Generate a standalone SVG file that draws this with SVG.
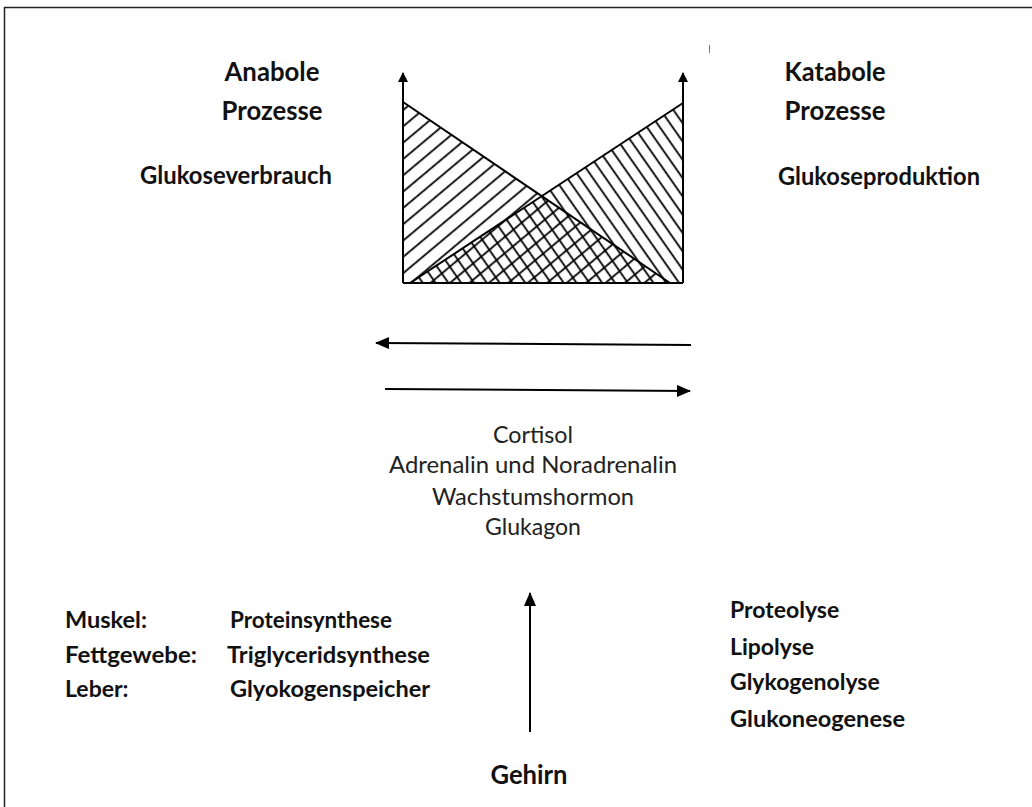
<svg xmlns="http://www.w3.org/2000/svg" width="1032" height="807" viewBox="0 0 1032 807">
<style>
.b{font-family:Lato,"Liberation Sans",sans-serif;font-weight:bold;fill:#111}
.r{font-family:Lato,"Liberation Sans",sans-serif;fill:#222}
.ln{stroke:#000;stroke-width:2;fill:none}
.hl{stroke:#000;stroke-width:1.8}
</style>
<defs>
<pattern id="hatchL" width="12.5" height="12.5" patternUnits="userSpaceOnUse" patternTransform="rotate(-40)">
<line x1="0" y1="6" x2="12.5" y2="6" class="hl"/>
</pattern>
<pattern id="hatchR" width="10.5" height="10.5" patternUnits="userSpaceOnUse" patternTransform="rotate(55)">
<line x1="0" y1="5" x2="10.5" y2="5" class="hl"/>
</pattern>
<marker id="ah" viewBox="0 0 10 10" refX="9" refY="5" markerWidth="10" markerHeight="10" markerUnits="userSpaceOnUse" orient="auto">
<path d="M0,0 L10,5 L0,10 z" fill="#000"/>
</marker>
<marker id="ahB" viewBox="0 0 14 12" refX="13" refY="6" markerWidth="14" markerHeight="12" markerUnits="userSpaceOnUse" orient="auto">
<path d="M0,0 L14,6 L0,12 z" fill="#000"/>
</marker>
</defs>
<rect width="1032" height="807" fill="#fff"/>
<g id="frame">
<line x1="4" y1="7.5" x2="1032" y2="7.5" stroke="#222" stroke-width="1.5"/>
<line x1="4.5" y1="7" x2="4.5" y2="807" stroke="#222" stroke-width="1.5"/>
<line x1="709.5" y1="45" x2="709.5" y2="53" stroke="#777" stroke-width="1"/>
</g>
<g id="chart">
<polygon points="403,102 403,283 670,283" fill="url(#hatchL)"/>
<polygon points="683,103 683,283 410,283" fill="url(#hatchR)"/>
<line x1="403" y1="102" x2="670" y2="283" class="ln"/>
<line x1="683" y1="103" x2="410" y2="283" class="ln"/>
<line x1="403" y1="283" x2="683" y2="283" class="ln"/>
</g>
<g id="connectors">
<line x1="403" y1="283" x2="403" y2="73" class="ln" marker-end="url(#ah)"/>
<line x1="683" y1="283" x2="683" y2="73" class="ln" marker-end="url(#ah)"/>
<line x1="691" y1="345" x2="376" y2="343" class="ln" marker-end="url(#ahB)"/>
<line x1="385" y1="389" x2="690" y2="391" class="ln" marker-end="url(#ahB)"/>
<line x1="530" y1="732" x2="530" y2="593" class="ln" marker-end="url(#ahB)"/>
</g>
<g id="anabol">
<text class="b" x="272" y="81" font-size="26" text-anchor="middle" textLength="95" lengthAdjust="spacingAndGlyphs">Anabole</text>
<text class="b" x="272" y="120" font-size="26" text-anchor="middle" textLength="101" lengthAdjust="spacingAndGlyphs">Prozesse</text>
<text class="b" x="236" y="184" font-size="24" text-anchor="middle" textLength="192" lengthAdjust="spacingAndGlyphs">Glukoseverbrauch</text>
</g>
<g id="katabol">
<text class="b" x="835" y="81" font-size="26" text-anchor="middle" textLength="101" lengthAdjust="spacingAndGlyphs">Katabole</text>
<text class="b" x="835" y="120" font-size="26" text-anchor="middle" textLength="101" lengthAdjust="spacingAndGlyphs">Prozesse</text>
<text class="b" x="879" y="185" font-size="24" text-anchor="middle" textLength="202" lengthAdjust="spacingAndGlyphs">Glukoseproduktion</text>
</g>
<g id="hormone">
<text class="r" x="533" y="443" font-size="24" text-anchor="middle" textLength="80" lengthAdjust="spacingAndGlyphs">Cortisol</text>
<text class="r" x="533" y="473" font-size="24" text-anchor="middle" textLength="288" lengthAdjust="spacingAndGlyphs">Adrenalin und Noradrenalin</text>
<text class="r" x="533" y="505" font-size="24" text-anchor="middle" textLength="202" lengthAdjust="spacingAndGlyphs">Wachstumshormon</text>
<text class="r" x="533" y="535" font-size="24" text-anchor="middle" textLength="96" lengthAdjust="spacingAndGlyphs">Glukagon</text>
</g>
<g id="anabol-organe">
<text class="b" x="65" y="628" font-size="23" textLength="82" lengthAdjust="spacingAndGlyphs">Muskel:</text>
<text class="b" x="230" y="628" font-size="23" textLength="162" lengthAdjust="spacingAndGlyphs">Proteinsynthese</text>
<text class="b" x="65" y="663" font-size="23" textLength="132" lengthAdjust="spacingAndGlyphs">Fettgewebe:</text>
<text class="b" x="227" y="663" font-size="23" textLength="203" lengthAdjust="spacingAndGlyphs">Triglyceridsynthese</text>
<text class="b" x="65" y="697" font-size="23">Leber:</text>
<text class="b" x="230" y="697" font-size="23" textLength="200" lengthAdjust="spacingAndGlyphs">Glyokogenspeicher</text>
</g>
<g id="katabol-prozesse">
<text class="b" x="730" y="618" font-size="23">Proteolyse</text>
<text class="b" x="730" y="655" font-size="23">Lipolyse</text>
<text class="b" x="730" y="690" font-size="23">Glykogenolyse</text>
<text class="b" x="730" y="727" font-size="23" textLength="175" lengthAdjust="spacingAndGlyphs">Glukoneogenese</text>
</g>
<g id="gehirn">
<text class="b" x="529" y="784" font-size="26" text-anchor="middle" textLength="77" lengthAdjust="spacingAndGlyphs">Gehirn</text>
</g>
</svg>
